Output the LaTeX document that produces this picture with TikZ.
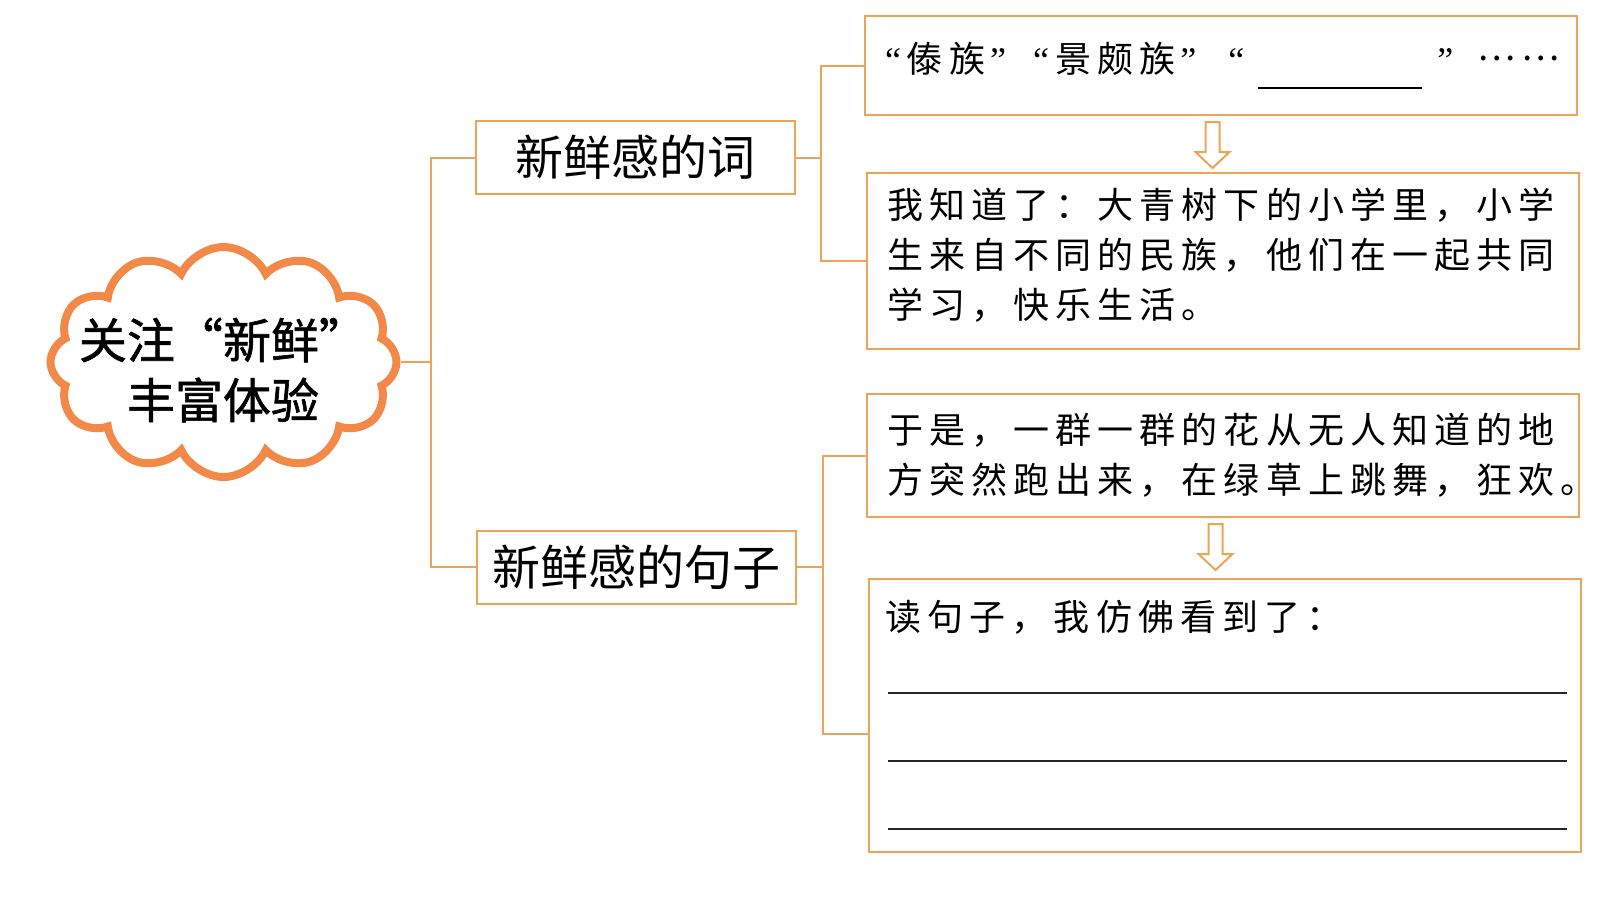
\documentclass[tikz,border=0pt]{standalone}
\usepackage{fontspec}
\setmainfont{Noto Sans CJK SC}
\newfontfamily\boxfont[LetterSpace=17]{Noto Sans CJK SC}
\newfontfamily\heavyfont[FakeBold=1.2]{Noto Sans CJK SC}
\newfontfamily\qf{Liberation Serif}
\usetikzlibrary{shapes.symbols,calc,positioning}
\definecolor{lineor}{RGB}{236,164,88}
\definecolor{cloudor}{RGB}{242,137,72}
\tikzset{
  topic/.style = {draw=cloudor, fill=white, line width=4pt, cloud, cloud puffs=12, cloud puff arc=130, aspect=1.5, minimum width=173pt, minimum height=115pt, inner sep=0pt},
  topictext/.style = {align=center, inner sep=0pt, font=\heavyfont\fontsize{24}{30}\selectfont},
  cat/.style = {draw=lineor, fill=white, line width=1pt, rectangle, minimum width=159.5pt, minimum height=36.5pt, inner sep=0pt, font=\fontsize{24}{28}\selectfont},
  txt/.style = {draw=lineor, fill=white, line width=1pt, rectangle, anchor=north west, align=left, inner xsep=10pt, inner ysep=0pt, text width=336pt, font=\boxfont\fontsize{18}{25}\selectfont},
  link/.style = {draw=lineor, line width=1pt},
  hollow/.style = {draw=lineor, fill=white, line width=1pt, line join=miter},
  wline/.style = {draw=black!85, line width=0.9pt}
}

\begin{document}
\begin{tikzpicture}[x=0.5pt, y=-0.5pt]
  \useasboundingbox (0,0) rectangle (1604,902);

  % centre cloud and the two kinds
  \node[topic] (cloud) at (223.5,362) {};
  \node[topictext] (title) at (223,370) {关注“新鲜”\\丰富体验};
  \node[cat] (word) at (635.5,157.5) {新鲜感的词};
  \node[cat] (sent) at (636.5,567) {新鲜感的句子};

  % boxes on the right
  \node[txt, minimum height=49.5pt] (ex1) at (864,15) {\mbox{{\qf“}\hspace{3pt}傣族\hspace{2.5pt}{\qf”}\hspace{13.5pt}{\qf“}\hspace{3pt}景颇族\hspace{2.5pt}{\qf”}\hspace{16pt}{\qf“}\hspace{7pt}\rule[-8.5pt]{82pt}{0.9pt}\hspace{7.5pt}{\qf”}\hspace{12pt}\raisebox{6pt}{……}}};
  \node[txt, minimum height=88pt] (know) at (866,172) {我知道了：大青树下的小学里，小学\\生来自不同的民族，他们在一起共同\\学习，快乐生活。\par\kern6pt\hrule height 0pt width 0pt};
  \node[txt, minimum height=61.5pt] (ex2) at (866,393) {于是，一群一群的花从无人知道的地\\方突然跑出来，在绿草上跳舞，狂欢。};
  \node[txt, minimum height=136.5pt] (see) at (868,578) {};
  \node[anchor=west, inner sep=0pt, font=\boxfont\fontsize{18}{25}\selectfont] (ask) at ($(see.north west)+(17,39)$) {读句子，我仿佛看到了：};
  \foreach \yy in {115,183,251}
    \draw[wline] ($(see.north west)+(20,\yy)$) -- ($(see.north east)+(-15,\yy)$);

  % connectors
  \coordinate (hub) at (431,361);
  \coordinate (fork1) at (821,0);
  \coordinate (fork2) at (823,0);
  \draw[link] (cloud.east) -- (cloud.east -| hub);
  \draw[link] (word.west) -| (hub) |- (sent.west);
  \draw[link] (word.east) -- (word.east -| fork1);
  \draw[link] (ex1.west) -- (ex1.west -| fork1) |- (know.west);
  \draw[link] (sent.east) -- (sent.east -| fork2);
  \draw[link] (ex2.west) -- (ex2.west -| fork2) |- ([yshift=-9pt]see.west);

  % hollow down arrows
  \draw[hollow] ($(ex1.south)+(-15.5,6)$) -- ++(14,0) -- ++(0,30) -- ++(10,0) -- ++(-17,16) -- ++(-17,-16) -- ++(10,0) -- cycle;
  \draw[hollow] ($(ex2.south)+(-14.5,6)$) -- ++(14,0) -- ++(0,30) -- ++(10,0) -- ++(-17,16) -- ++(-17,-16) -- ++(10,0) -- cycle;
\end{tikzpicture}
\end{document}
